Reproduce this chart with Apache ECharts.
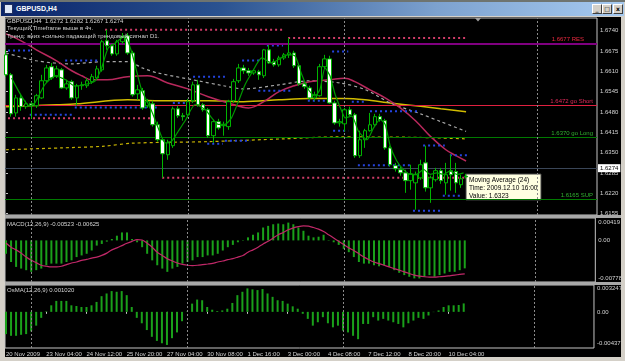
<!DOCTYPE html>
<html>
<head>
<meta charset="utf-8">
<script src="https://cdn.jsdelivr.net/npm/echarts@6.0.0/dist/echarts.min.js"></script>
<style>
  html, body { margin:0; padding:0; width:625px; height:361px; overflow:hidden; background:#d4d0c8; }
  #strip { position:absolute; left:0; top:0; width:625px; height:2px; background:#6e7470; }
  #titlebar { position:absolute; left:1px; top:2px; width:623px; height:14px;
     background: linear-gradient(to right, #0a246a 0%, #2a5290 35%, #7da2cf 70%, #a6caf0 100%); }
  #ticon { position:absolute; left:3px; top:2px; width:7px; height:8px; background:#dfe8f8; border:1px solid #203060; }
  #ttext { position:absolute; left:15px; top:2px; color:#fff; font: bold 7px "Liberation Sans", Arial, sans-serif; line-height:10px; }
  .btn { position:absolute; top:2px; width:8px; height:8px; background:#d4d0c8; border-top:1px solid #fff; border-left:1px solid #fff; border-right:1px solid #404040; border-bottom:1px solid #404040; color:#000; font: bold 6px "DejaVu Sans", sans-serif; line-height:8px; text-align:center; }
  #plotbg { position:absolute; left:5px; top:17px; width:616px; height:340px; background:#000; }
  #chart { position:absolute; left:0; top:0; width:625px; height:361px; }
</style>
</head>
<body>
<div id="strip"></div>
<div id="titlebar"><div id="ticon"></div><div id="ttext">GBPUSD,H4</div>
 <div class="btn" style="left:591px">_</div><div class="btn" style="left:601px">□</div><div class="btn" style="left:612px">x</div></div>
<div id="plotbg"></div>
<div id="chart"></div>
<script>
// ---------- DATA ----------
const timeLabels = ['20 Nov 2009','23 Nov 04:00','24 Nov 12:00','25 Nov 20:00','27 Nov 04:00','30 Nov 08:00','1 Dec 16:00','3 Dec 00:00','4 Dec 08:00','7 Dec 12:00','8 Dec 20:00','10 Dec 04:00'];
const timeLabelAt = [0,8,16,24,32,40,48,56,64,72,80,88];
const priceTicks = [1.6155,1.6220,1.6285,1.6350,1.6415,1.6480,1.6545,1.6610,1.6675,1.6740];

const opens = [
 1.6663,1.6599,1.6477,1.6525,1.6497,1.6506,1.6500,1.6525,1.6580,1.6625,
 1.6596,1.6615,1.6557,1.6577,1.6525,1.6564,1.6564,1.6577,1.6589,1.6615,
 1.6708,1.6692,1.6666,1.6705,1.6724,1.6669,1.6538,1.6548,1.6500,1.6506,
 1.6439,1.6391,1.6343,1.6372,1.6490,1.6468,1.6471,1.6516,1.6567,1.6503,
 1.6487,1.6404,1.6449,1.6436,1.6433,1.6516,1.6580,1.6621,1.6612,1.6605,
 1.6609,1.6596,1.6679,1.6641,1.6631,1.6653,1.6663,1.6669,1.6628,1.6570,
 1.6557,1.6525,1.6532,1.6625,1.6650,1.6509,1.6445,1.6442,1.6487,1.6471,
 1.6340,1.6391,1.6420,1.6439,1.6465,1.6452,1.6365,1.6308,1.6295,1.6285,
 1.6260,1.6253,1.6269,1.6317,1.6237,1.6263,1.6292,1.6253,1.6292,1.6289,
 1.6247,1.6272];
const closes = [
 1.6599,1.6474,1.6525,1.6497,1.6506,1.6500,1.6532,1.6580,1.6621,1.6589,
 1.6618,1.6557,1.6570,1.6525,1.6564,1.6567,1.6580,1.6593,1.6618,1.6705,
 1.6692,1.6666,1.6705,1.6721,1.6669,1.6535,1.6551,1.6493,1.6513,1.6439,
 1.6391,1.6346,1.6381,1.6490,1.6468,1.6465,1.6513,1.6567,1.6503,1.6487,
 1.6404,1.6449,1.6429,1.6439,1.6513,1.6577,1.6621,1.6612,1.6605,1.6612,
 1.6599,1.6679,1.6637,1.6631,1.6653,1.6663,1.6669,1.6628,1.6570,1.6561,
 1.6525,1.6535,1.6625,1.6650,1.6509,1.6445,1.6449,1.6487,1.6471,1.6340,
 1.6391,1.6420,1.6439,1.6465,1.6455,1.6365,1.6311,1.6298,1.6285,1.6260,
 1.6282,1.6279,1.6311,1.6237,1.6269,1.6292,1.6260,1.6279,1.6279,1.6253,
 1.6266,1.6274];
const highs = [
 1.6679,1.6605,1.6535,1.6535,1.6516,1.6513,1.6538,1.6599,1.6631,1.6637,
 1.6628,1.6621,1.6583,1.6583,1.6570,1.6577,1.6589,1.6602,1.6628,1.6711,
 1.6743,1.6698,1.6711,1.6733,1.6733,1.6676,1.6567,1.6557,1.6522,1.6516,
 1.6449,1.6397,1.6391,1.6497,1.6500,1.6477,1.6522,1.6577,1.6583,1.6509,
 1.6493,1.6455,1.6458,1.6449,1.6519,1.6586,1.6634,1.6631,1.6621,1.6618,
 1.6615,1.6682,1.6695,1.6650,1.6660,1.6669,1.6717,1.6676,1.6634,1.6577,
 1.6564,1.6545,1.6634,1.6663,1.6660,1.6516,1.6458,1.6493,1.6497,1.6477,
 1.6420,1.6426,1.6477,1.6474,1.6474,1.6458,1.6372,1.6317,1.6305,1.6295,
 1.6311,1.6289,1.6327,1.6372,1.6276,1.6301,1.6301,1.6317,1.6343,1.6317,
 1.6279,1.6282];
const lows = [
 1.6593,1.6465,1.6465,1.6484,1.6490,1.6458,1.6493,1.6522,1.6573,1.6583,
 1.6589,1.6554,1.6551,1.6519,1.6500,1.6551,1.6557,1.6570,1.6583,1.6609,
 1.6679,1.6660,1.6660,1.6698,1.6663,1.6529,1.6519,1.6487,1.6493,1.6433,
 1.6385,1.6269,1.6327,1.6365,1.6461,1.6452,1.6461,1.6509,1.6497,1.6481,
 1.6397,1.6381,1.6423,1.6404,1.6423,1.6509,1.6573,1.6602,1.6596,1.6599,
 1.6583,1.6589,1.6634,1.6625,1.6625,1.6647,1.6653,1.6621,1.6564,1.6554,
 1.6519,1.6516,1.6529,1.6618,1.6506,1.6439,1.6433,1.6417,1.6465,1.6333,
 1.6333,1.6365,1.6417,1.6433,1.6449,1.6359,1.6305,1.6289,1.6276,1.6221,
 1.6231,1.6167,1.6263,1.6225,1.6189,1.6257,1.6250,1.6215,1.6228,1.6221,
 1.6237,1.6267];

// moving averages (bar position, value)
const ma24At = [0,3,6,10,13,15,17,20,24,28,32,36,40,44,48,51,54,57,60,64,67,69,72,75,78,81,84,87,89,91];
const ma24 = [1.6730,1.6708,1.6679,1.6644,1.6612,1.6596,1.6583,1.6583,1.6593,1.6596,1.6573,1.6554,1.6529,1.6509,1.6493,1.6513,1.6545,1.6564,1.6577,1.6583,1.6588,1.6577,1.6551,1.6525,1.6493,1.6452,1.6401,1.6359,1.6340,1.6323];
const maSlowAt = [0,10,14,24,30,40,47,54,60,67,71,76,82,86,91];
const maSlow = [1.6497,1.6503,1.6506,1.6519,1.6516,1.6516,1.6513,1.6519,1.6523,1.6523,1.6519,1.6509,1.6498,1.6490,1.6481];
const maDashYAt = [0,11,19,25,40,55,65,80,91];
const maDashY = [1.6359,1.6365,1.6370,1.6380,1.6385,1.6394,1.6400,1.6399,1.6394];
const maGrayAt = [0,6,13,19,24,27,30,37,43,47,54,60,66,71,76,82,86,91];
const maGray = [1.6669,1.6644,1.6634,1.6641,1.6641,1.6621,1.6605,1.6583,1.6564,1.6554,1.6567,1.6580,1.6573,1.6552,1.6509,1.6474,1.6449,1.6418];
const maFastAt = [1.1,4.7,5.7,7.7,9.7,11.7,13.6,15.6,17.6,18.9,20.2,21.6,23.5,24.9,26.8,28.8,30.1,31.5,32.8,34.1,35.4,37.4,39.4,40.7,42,43.3,44.6,46,47.3,48.6,50.6,52.6,53.9,55.8,57.2,58.5,59.8,61.1,62.1,63.1,64.1,65.1,66.4,67.1,68.4,69.7,71.4,72.7,74,75,76,77.3,78.6,79.9,81.2,82.6,83.9,85.2,86.5,87.8,89.2,90.5];
const maFast = [1.6589,1.6499,1.6509,1.6568,1.6595,1.6584,1.6563,1.6568,1.6579,1.6621,1.6685,1.6701,1.6723,1.6669,1.6552,1.6483,1.6429,1.6381,1.6387,1.6419,1.6451,1.6504,1.6488,1.6461,1.6440,1.6440,1.6461,1.6515,1.6568,1.6605,1.6653,1.6637,1.6648,1.6664,1.6659,1.6600,1.6552,1.6531,1.6552,1.6621,1.6595,1.6536,1.6483,1.6461,1.6467,1.6419,1.6391,1.6429,1.6456,1.6440,1.6371,1.6323,1.6296,1.6280,1.6280,1.6296,1.6280,1.6285,1.6280,1.6291,1.6280,1.6285];

// horizontal levels
const levelPrices = [1.6677, 1.6472, 1.6370, 1.6165];
const levelTexts = ['1.6677 RES', '1.6472 go Short', '1.6370 go Long', '1.6165 SUP'];
const bidPrice = 1.6274;
const weekGridAt = [5, 36, 67, 105];

// dotted segments (level, from bar, to bar)
const redDotLevels = [1.6743, 1.6717, 1.6460, 1.6269];
const redDotFrom = [19.6, 55.8, 0.4, 30.9];
const redDotTo = [55.2, 91.2, 30.0, 91.2];
const blueLevels = [1.6677,1.6645,1.6494,1.6471,1.6593,1.6509,1.6645,1.6693,1.6548,1.6378,1.6388,1.6516,1.6674,1.6420,1.6513,1.6482,1.6309,1.6373,1.6341,1.6212,1.6164];
const blueFrom = [0.4,11.7,13.6,4.7,37,33,46.7,51.6,49.9,39.8,43.3,59.7,64.5,64.7,68.4,72,69.6,82.5,87.8,86.4,80.5];
const blueTo = [5.3,18.6,30,13,43.3,35.8,50.6,54.8,56.8,42.9,48.3,64.1,67.7,67.7,71,81.9,79.9,86.8,91.2,90.2,86.2];

// MACD(12,26,9)
const macdHist = [
 -0.00250,-0.00404,-0.00496,-0.00527,-0.00557,-0.00588,-0.00557,-0.00527,-0.00465,-0.00434,
 -0.00434,-0.00434,-0.00404,-0.00373,-0.00312,-0.00281,-0.00250,-0.00189,-0.00097,-0.00066,
 -0.00023,0.00026,0.00088,0.00149,0.00149,0.00026,-0.00035,-0.00127,-0.00250,-0.00373,
 -0.00465,-0.00527,-0.00588,-0.00527,-0.00496,-0.00434,-0.00404,-0.00373,-0.00312,-0.00312,
 -0.00281,-0.00281,-0.00250,-0.00189,-0.00127,-0.00084,-0.00035,0.00008,0.00057,0.00106,
 0.00149,0.00241,0.00272,0.00302,0.00315,0.00302,0.00333,0.00302,0.00241,0.00180,
 0.00088,0.00057,0.00069,0.00106,0.00008,-0.00035,-0.00084,-0.00158,-0.00220,-0.00312,
 -0.00404,-0.00434,-0.00434,-0.00465,-0.00484,-0.00465,-0.00496,-0.00557,-0.00606,-0.00649,
 -0.00680,-0.00711,-0.00711,-0.00680,-0.00649,-0.00680,-0.00649,-0.00619,-0.00588,-0.00588,
 -0.00557,-0.00523];
const macdSignal = [
 -0.00048,-0.00127,-0.00177,-0.00238,-0.00312,-0.00373,-0.00416,-0.00465,-0.00484,-0.00496,
 -0.00496,-0.00484,-0.00453,-0.00422,-0.00404,-0.00373,-0.00355,-0.00330,-0.00312,-0.00281,
 -0.00238,-0.00177,-0.00140,-0.00097,-0.00054,-0.00017,0.00014,0.00008,-0.00054,-0.00127,
 -0.00220,-0.00281,-0.00342,-0.00385,-0.00422,-0.00447,-0.00465,-0.00471,-0.00465,-0.00453,
 -0.00441,-0.00428,-0.00404,-0.00385,-0.00361,-0.00342,-0.00312,-0.00281,-0.00220,-0.00177,
 -0.00127,-0.00066,-0.00017,0.00045,0.00106,0.00149,0.00198,0.00235,0.00259,0.00272,
 0.00266,0.00241,0.00210,0.00167,0.00106,0.00045,-0.00017,-0.00078,-0.00140,-0.00189,
 -0.00250,-0.00312,-0.00361,-0.00404,-0.00434,-0.00465,-0.00496,-0.00527,-0.00557,-0.00588,
 -0.00619,-0.00649,-0.00668,-0.00680,-0.00686,-0.00686,-0.00680,-0.00674,-0.00662,-0.00649,
 -0.00637,-0.00625];
// OsMA(12,26,9)
const osma = [
 -0.002690,-0.002895,-0.002895,-0.002772,-0.002690,-0.002363,-0.001667,-0.000725,0.000060,0.000790,
 0.001323,0.001323,0.001323,0.000790,0.000708,0.000585,0.000585,0.000790,0.001200,0.001896,
 0.002223,0.002510,0.002428,0.002510,0.002019,0.000585,-0.000725,-0.001380,-0.002199,-0.003018,
 -0.003510,-0.003796,-0.004001,-0.003182,-0.002486,-0.001134,0.000050,0.000995,0.001486,0.001405,
 0.000585,0.000258,0.000094,0.000176,0.000381,0.001077,0.002019,0.002428,0.002838,0.002715,
 0.002633,0.002756,0.002223,0.001814,0.001405,0.001323,0.000995,0.000667,0.000381,-0.000234,
 -0.000848,-0.001667,-0.001257,-0.000643,-0.001380,-0.001872,-0.001667,-0.002281,-0.002486,-0.002895,
 -0.003305,-0.001462,-0.001462,-0.000643,-0.001052,-0.000848,-0.001052,-0.001257,-0.001462,-0.001872,
 -0.001380,-0.001052,-0.000725,-0.000848,-0.000438,-0.000029,0.000176,0.000585,0.000790,0.000790,
 0.000831,0.001020];
const macdTickAt = [0.00344, 0, -0.00716];
const macdTickText = ['0.00419', '0.00', '-0.00778'];
const osmaTickAt = [0.0028, 0, -0.0038];
const osmaTickText = ['0.003247', '0.00', '-0.00437'];

const headerLines = ['GBPUSD,H4  1.6272 1.6282 1.6267 1.6274', 'Текущий Timeframe выше в 4ч.', 'Тренд: вниз +сильно падающий трендовый сигнал D1.'];
const macdTitle = 'MACD(12,26,9) -0.00523 -0.00625';
const osmaTitle = 'OsMA(12,26,9) 0.001020';
const tipLines = ['Moving Average (24)', 'Time: 2009.12.10 16:00', 'Value: 1.6323'];

// ---------- CHART ----------
const FONT = '"Liberation Sans", Arial, sans-serif';
const TXT = '#d4d4d4';
const X_MIN = -0.2, X_MAX = 116.9;
const idx = opens.map((_, i) => i);
const pairs = (xs, ys) => xs.map((x, k) => [x, ys[k]]);
const nearestText = (v, at, txt) => { let b = 0; at.forEach((a, k) => { if (Math.abs(a - v) < Math.abs(at[b] - v)) b = k; }); return txt[b]; };

const weekLines = () => ({
  symbol: ['none', 'none'], silent: true, animation: false, label: { show: false },
  lineStyle: { color: '#8a8a8a', type: [2, 2], width: 1 },
  data: weekGridAt.map(x => ({ xAxis: x }))
});

const levelColors = ['#800080', '#e02040', '#007a00', '#007a00'];
const levelLabelColors = ['#ee2a40', '#e02a5a', '#30b030', '#30b030'];
const levelWidths = [2, 1, 1, 1];
const levelPad = [[0, 12, 0, 0], [0, 3, 0, 0], [0, 3, 0, 0], [0, 3, 0, 0]];

const levelMarks = levelPrices.map((p, k) => ({
  yAxis: p,
  lineStyle: { color: levelColors[k], width: levelWidths[k], type: 'solid' },
  label: { show: true, position: 'insideEndTop', formatter: levelTexts[k], color: levelLabelColors[k],
           fontSize: 6, fontFamily: FONT, padding: levelPad[k], distance: 1 }
}));
levelMarks.push({
  yAxis: bidPrice,
  lineStyle: { color: '#3a4658', width: 1, type: 'solid' },
  label: { show: true, position: 'end', formatter: bidPrice.toFixed(4), color: '#000', backgroundColor: '#fff',
           fontSize: 6, fontFamily: FONT, padding: [1, 2, 1, 2], distance: 1 }
});
weekGridAt.forEach(x => levelMarks.push({ xAxis: x, lineStyle: { color: '#8a8a8a', type: [2, 2], width: 1 }, label: { show: false } }));

const series = [];
series.push({
  type: 'candlestick', xAxisIndex: 0, yAxisIndex: 0, z: 5,
  data: idx.map(i => [i, opens[i], closes[i], lows[i], highs[i]]),
  encode: { x: 0, y: [1, 2, 3, 4] },
  barWidth: 4,
  itemStyle: { color: '#000', color0: '#fff', borderColor: '#00b400', borderColor0: '#00b400', borderWidth: 1 },
  markLine: { symbol: ['none', 'none'], silent: true, animation: false, data: levelMarks }
});
const lineS = (xs, ys, color, width, type, smooth, z) => ({
  type: 'line', xAxisIndex: 0, yAxisIndex: 0, data: pairs(xs, ys), showSymbol: false, silent: true,
  smooth: smooth, z: z, lineStyle: { color, width, type }
});
series.push(lineS(maSlowAt, maSlow, '#d2bc00', 1.5, 'solid', 0.3, 3));
series.push(lineS(maDashYAt, maDashY, '#c8b400', 1.2, [3, 3], 0.3, 3));
series.push(lineS(maGrayAt, maGray, '#a8a8a8', 1.2, [3, 3], 0.3, 3));
series.push(lineS(ma24At, ma24, '#b8285c', 1.5, 'solid', 0.4, 4));
series.push(lineS(maFastAt, maFast, '#009a00', 1.2, 'solid', 0.2, 6));
redDotLevels.forEach((lv, k) => series.push(lineS([redDotFrom[k], redDotTo[k]], [lv, lv], '#d03c68', 2, [2, 3], false, 4)));
blueLevels.forEach((lv, k) => series.push(lineS([blueFrom[k], blueTo[k]], [lv, lv], '#2444e0', 2, [2, 3], false, 4)));

series.push({
  type: 'bar', xAxisIndex: 1, yAxisIndex: 1, data: pairs(idx, macdHist), barWidth: 2, silent: true,
  itemStyle: { color: '#1aa01a' }, markLine: weekLines()
});
series.push({
  type: 'line', xAxisIndex: 1, yAxisIndex: 1, data: pairs(idx, macdSignal), showSymbol: false, silent: true,
  smooth: 0.3, lineStyle: { color: '#c02868', width: 1.2 }, z: 4
});
series.push({
  type: 'bar', xAxisIndex: 2, yAxisIndex: 2, data: pairs(idx, osma), barWidth: 2, silent: true,
  itemStyle: { color: '#1aa01a' }, markLine: weekLines()
});

const gridBase = { left: 5, width: 592, show: true, borderColor: '#c4c4c4', borderWidth: 1, backgroundColor: 'transparent' };
const labelBase = { color: TXT, fontSize: 6, fontFamily: FONT };

const option = {
  animation: false,
  backgroundColor: 'transparent',
  grid: [
    Object.assign({ top: 18, height: 197 }, gridBase),
    Object.assign({ top: 218, height: 64 }, gridBase),
    Object.assign({ top: 285, height: 63 }, gridBase)
  ],
  xAxis: [0, 1, 2].map(g => ({
    type: 'value', gridIndex: g, min: X_MIN, max: X_MAX,
    axisLine: { show: false }, splitLine: { show: false },
    axisTick: g === 2 ? { show: true, customValues: timeLabelAt, length: 2, lineStyle: { color: '#c4c4c4' } } : { show: false },
    axisLabel: g === 2 ? Object.assign({ show: true, customValues: timeLabelAt, align: 'left', margin: 3,
      formatter: v => nearestText(v, timeLabelAt, timeLabels) }, labelBase) : { show: false }
  })),
  yAxis: [
    { gridIndex: 0, type: 'value', position: 'right', min: 1.6150, max: 1.6781,
      axisLine: { show: false }, splitLine: { show: false },
      axisTick: { show: true, customValues: priceTicks, length: 2, lineStyle: { color: '#c4c4c4' } },
      axisLabel: Object.assign({ customValues: priceTicks, margin: 3, formatter: v => v.toFixed(4) }, labelBase) },
    { gridIndex: 1, type: 'value', position: 'right', min: -0.00778, max: 0.00419,
      axisLine: { show: false }, splitLine: { show: false }, axisTick: { show: false },
      axisLabel: Object.assign({ customValues: macdTickAt, margin: 3, formatter: v => nearestText(v, macdTickAt, macdTickText) }, labelBase) },
    { gridIndex: 2, type: 'value', position: 'right', min: -0.00437, max: 0.003247,
      axisLine: { show: false }, splitLine: { show: false }, axisTick: { show: false },
      axisLabel: Object.assign({ customValues: osmaTickAt, margin: 3, formatter: v => nearestText(v, osmaTickAt, osmaTickText) }, labelBase) }
  ],
  graphic: [
    { type: 'rect', z: 50, shape: { x: 5, y: 215, width: 616, height: 3 }, style: { fill: '#a8a8a8' } },
    { type: 'rect', z: 50, shape: { x: 5, y: 282, width: 616, height: 3 }, style: { fill: '#a8a8a8' } },
    { type: 'text', z: 60, x: 7, y: 18, style: { text: headerLines[0], fill: TXT, font: '6px ' + FONT } },
    { type: 'text', z: 60, x: 7, y: 25.5, style: { text: headerLines[1], fill: TXT, font: '6px ' + FONT } },
    { type: 'text', z: 60, x: 7, y: 33, style: { text: headerLines[2], fill: TXT, font: '6px ' + FONT } },
    { type: 'text', z: 60, x: 7, y: 221, style: { text: macdTitle, fill: TXT, font: '6px ' + FONT } },
    { type: 'text', z: 60, x: 7, y: 287, style: { text: osmaTitle, fill: TXT, font: '6px ' + FONT } },
    { type: 'polygon', z: 60, shape: { points: [[475, 18], [481, 18], [478, 21.5]] }, style: { fill: '#a0a0a0' } },
    { type: 'group', z: 100, x: 466, y: 174, children: [
      { type: 'rect', shape: { x: 0, y: 0, width: 75, height: 26 }, style: { fill: '#ffffe1', stroke: '#404040', lineWidth: 1 } },
      { type: 'text', x: 3, y: 2, style: { text: tipLines.join('\n'), fill: '#000', font: '6.5px ' + FONT, lineHeight: 8 } }
    ] }
  ],
  series: series
};

const chart = echarts.init(document.getElementById('chart'), null, { renderer: 'canvas' });
chart.setOption(option);
</script>
</body>
</html>
